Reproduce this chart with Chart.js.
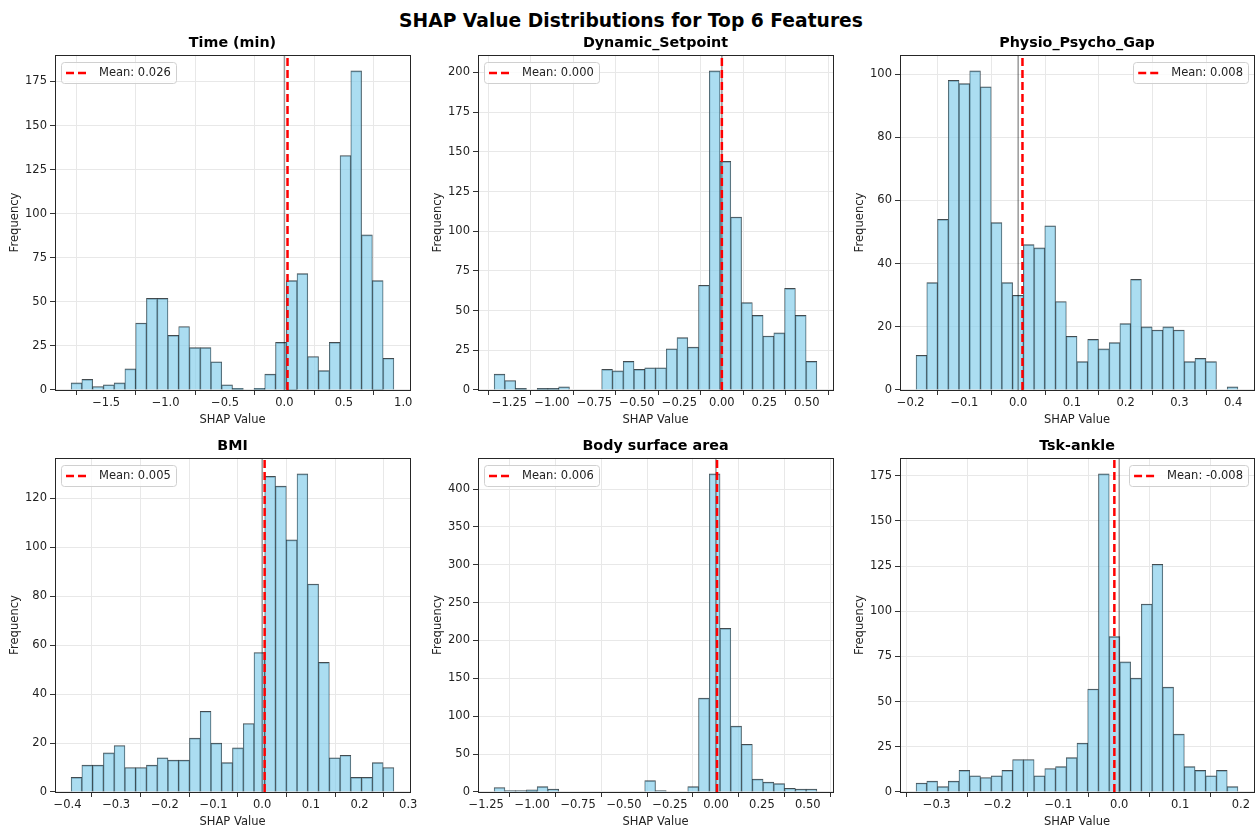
<!DOCTYPE html>
<html>
<head>
<meta charset="utf-8">
<title>SHAP Value Distributions for Top 6 Features</title>
<script src="https://cdn.jsdelivr.net/npm/chart.js@4.4.1/dist/chart.umd.min.js"></script>
<style>
  body { margin: 0; background: #fff; }
  #fig { position: relative; width: 1255px; height: 829px; overflow: hidden; background: #fff; }
  #suptitle { position: absolute; left: 0; top: 11px; width: 1262px; text-align: center;
              font: bold 18.7px 'DejaVu Sans'; line-height: 20px; color: #000; }
  .panel { position: absolute; }
</style>
</head>
<body>
<div id="fig">
  <div id="suptitle">SHAP Value Distributions for Top 6 Features</div>
</div>
<script>
// SHAP value histograms, 30 bins per feature

const features = ['Time (min)', 'Dynamic_Setpoint', 'Physio_Psycho_Gap', 'BMI', 'Body surface area', 'Tsk-ankle'];

// bin counts, left to right
const timeCounts     = [4, 6, 2, 3, 4, 12, 38, 52, 52, 31, 36, 24, 24, 16, 3, 1, 0, 1, 9, 27, 62, 66, 19, 11, 27, 133, 181, 88, 62, 18];
const setpointCounts = [10, 6, 1, 0, 1, 1, 2, 0, 0, 0, 13, 12, 18, 13, 14, 14, 26, 33, 27, 66, 201, 144, 109, 55, 47, 34, 36, 64, 47, 18];
const gapCounts      = [11, 34, 54, 98, 97, 101, 96, 53, 34, 30, 46, 45, 52, 28, 17, 9, 16, 13, 15, 21, 35, 20, 19, 20, 19, 9, 10, 9, 0, 1];
const bmiCounts      = [6, 11, 11, 16, 19, 10, 10, 11, 14, 13, 13, 22, 33, 20, 12, 18, 28, 57, 129, 125, 103, 130, 85, 53, 14, 15, 6, 6, 12, 10];
const bsaCounts      = [6, 2, 2, 3, 7, 4, 0, 0, 0, 0, 0, 0, 0, 0, 15, 2, 0, 0, 7, 124, 420, 216, 87, 63, 17, 13, 11, 5, 4, 4];
const ankleCounts    = [5, 6, 3, 6, 12, 9, 8, 9, 12, 18, 18, 9, 13, 14, 19, 27, 57, 176, 86, 72, 63, 104, 126, 58, 32, 14, 12, 9, 12, 3];
const allCounts = [timeCounts, setpointCounts, gapCounts, bmiCounts, bsaCounts, ankleCounts];

// histogram range (first bin edge, last bin edge)
const binLo = [-1.795, -1.340, -0.190, -0.3925, -1.2066, -0.3339];
const binHi = [0.921, 0.559, 0.409, 0.2705, 0.549, 0.1951];

const means = [0.026, 0.000, 0.008, 0.005, 0.006, -0.008];

const xTickStep = [0.5, 0.25, 0.1, 0.1, 0.25, 0.1];
const xTickDecimals = [1, 2, 1, 1, 2, 1];
const yTickStep = [25, 25, 20, 20, 50, 25];
const legendSide = ['left', 'left', 'right', 'left', 'left', 'right'];

Chart.defaults.font.family = "'DejaVu Sans'";
Chart.defaults.color = '#222';

// plot-area placement of the 2x3 grid
const plotLeft = [55, 478, 900];
const plotWidth = [355, 355, 354];
const plotTop = [55, 458];
const plotHeight = [335, 334];
const AXIS_W = 50, AXIS_H = 40, TOP_PAD = 30, RIGHT_PAD = 20;

// spines + in-axes legend
const framePlugin = {
  id: 'frame',
  afterDraw(chart, args, opts) {
    const { ctx, chartArea: a } = chart;
    ctx.save();
    ctx.strokeStyle = '#262626';
    ctx.lineWidth = 1;
    ctx.strokeRect(Math.round(a.left) + 0.5, Math.round(a.top) + 0.5, Math.round(a.width), Math.round(a.height));

    ctx.font = "11.5px 'DejaVu Sans'";
    const tw = ctx.measureText(opts.label).width;
    const bw = tw + 43, bh = 21;
    const bx = opts.side === 'left' ? a.left + 6 : a.right - 6 - bw;
    const by = a.top + 7;
    ctx.beginPath();
    ctx.roundRect(Math.round(bx) + 0.5, Math.round(by) + 0.5, Math.round(bw), bh, 3);
    ctx.fillStyle = 'rgba(255,255,255,0.8)';
    ctx.fill();
    ctx.strokeStyle = '#d0d0d0';
    ctx.stroke();

    ctx.beginPath();
    ctx.setLineDash([8, 4]);
    ctx.strokeStyle = '#ff0000';
    ctx.lineWidth = 2.5;
    ctx.moveTo(bx + 5, by + 11);
    ctx.lineTo(bx + 28, by + 11);
    ctx.stroke();
    ctx.setLineDash([]);

    ctx.fillStyle = '#222';
    ctx.textBaseline = 'middle';
    ctx.textAlign = 'left';
    ctx.fillText(opts.label, bx + 38, by + 11);
    ctx.restore();
  }
};

const fig = document.getElementById('fig');

features.forEach((name, i) => {
  const col = i % 3, row = Math.floor(i / 3);
  const counts = allCounts[i];
  const binW = (binHi[i] - binLo[i]) / counts.length;
  const pad = 0.05 * (binHi[i] - binLo[i]);
  const yMax = Math.max(...counts) * 1.05;

  const w = plotWidth[col] + AXIS_W + RIGHT_PAD;
  const h = plotHeight[row] + TOP_PAD + AXIS_H;
  const div = document.createElement('div');
  div.className = 'panel';
  div.style.left = (plotLeft[col] - AXIS_W) + 'px';
  div.style.top = (plotTop[row] - TOP_PAD) + 'px';
  div.style.width = w + 'px';
  div.style.height = h + 'px';
  const canvas = document.createElement('canvas');
  canvas.width = w;
  canvas.height = h;
  div.appendChild(canvas);
  fig.appendChild(div);

  const bars = counts.map((c, k) => ({ x: binLo[i] + (k + 0.5) * binW, y: c }));
  const dec = xTickDecimals[i];

  new Chart(canvas.getContext('2d'), {
    type: 'bar',
    data: {
      datasets: [
        {
          type: 'line',
          data: [{ x: means[i], y: 0 }, { x: means[i], y: yMax }],
          borderColor: '#ff0000',
          borderWidth: 2.5,
          borderDash: [8, 4],
          pointRadius: 0,
          order: 1
        },
        {
          type: 'line',
          data: [{ x: 0, y: 0 }, { x: 0, y: yMax }],
          borderColor: 'rgba(0,0,0,0.4)',
          borderWidth: 1.5,
          pointRadius: 0,
          order: 2
        },
        {
          data: bars,
          backgroundColor: 'rgba(135,206,235,0.7)',
          borderColor: 'rgba(20,30,35,0.8)',
          borderWidth: { top: 1, left: 0.65, right: 0.65, bottom: 0 },
          borderSkipped: false,
          barPercentage: 1,
          categoryPercentage: 1,
          order: 3
        }
      ]
    },
    options: {
      responsive: false,
      animation: false,
      layout: { padding: { top: 0, right: RIGHT_PAD, left: 0, bottom: 0 } },
      scales: {
        x: {
          type: 'linear',
          offset: false,
          min: binLo[i] - pad,
          max: binHi[i] + pad,
          afterFit: s => { s.height = AXIS_H; },
          border: { display: false },
          grid: { color: '#e8e8e8', lineWidth: 1, tickColor: '#333', tickLength: 5, tickWidth: 1 },
          ticks: {
            stepSize: xTickStep[i],
            includeBounds: false,
            autoSkip: false,
            maxRotation: 0,
            padding: 1,
            font: { size: 11.5 },
            callback: v => (Math.abs(v) < 1e-9 ? 0 : v).toFixed(dec).replace('-', '\u2212')
          },
          title: { display: true, text: 'SHAP Value', font: { size: 11.5 }, padding: { top: 0, bottom: 3 } }
        },
        y: {
          min: 0,
          max: yMax,
          afterFit: s => { s.width = AXIS_W; },
          border: { display: false },
          grid: { color: '#e8e8e8', lineWidth: 1, tickColor: '#333', tickLength: 5, tickWidth: 1 },
          ticks: {
            stepSize: yTickStep[i],
            includeBounds: false,
            padding: 3,
            font: { size: 11.5 },
            callback: v => String(Math.round(v))
          },
          title: { display: true, text: 'Frequency', font: { size: 11.6 }, padding: { top: 3, bottom: 0 } }
        }
      },
      plugins: {
        legend: { display: false },
        tooltip: { enabled: false },
        title: {
          display: true,
          text: name,
          fullSize: false,
          color: '#000',
          font: { size: 14.3, weight: 'bold' },
          padding: { top: 9.9, bottom: 2.9 }
        },
        frame: { label: 'Mean: ' + means[i].toFixed(3), side: legendSide[i] }
      }
    },
    plugins: [framePlugin]
  });
});
</script>
</body>
</html>
